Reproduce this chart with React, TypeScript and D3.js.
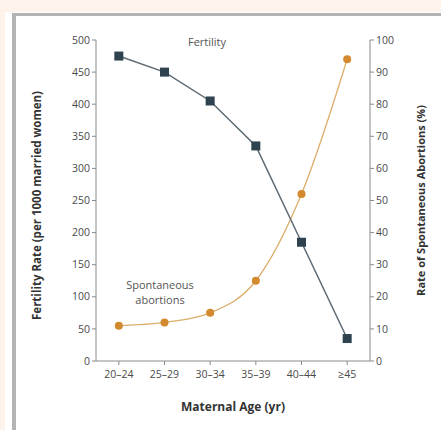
import React from "react";
import * as d3 from "d3";

const categories = ["20–24", "25–29", "30–34", "35–39", "40–44", "≥45"];
const fertility = [475, 450, 405, 335, 185, 35];
const abortions = [11, 12, 15, 25, 52, 94];
const leftTicks = [0, 50, 100, 150, 200, 250, 300, 350, 400, 450, 500];
const rightTicks = [0, 10, 20, 30, 40, 50, 60, 70, 80, 90, 100];

const W = 441, H = 430;
const x0 = 96, x1 = 370, yTop = 40, yBot = 361;
const FONT = "'Open Sans', 'Noto Sans', sans-serif";

export default function App() {
  const x = d3.scalePoint<string>().domain(categories).range([x0, x1]).padding(0.5);
  const yL = d3.scaleLinear().domain([0, 500]).range([yBot, yTop]);
  const yR = d3.scaleLinear().domain([0, 100]).range([yBot, yTop]);
  const fLine = d3.line<number>().x((_, i) => x(categories[i])!).y((d) => yL(d));
  const aLine = d3.line<number>().x((_, i) => x(categories[i])!).y((d) => yR(d)).curve(d3.curveMonotoneX);
  const axisColor = "#8a8a8a";
  const tickText = "#4a4a4a";
  return (
    <svg width={W} height={H} style={{ position: "absolute", left: 0, top: 0, background: "#fff" }} fontFamily={FONT}>
      <rect x={0} y={0} width={W} height={12} fill="#fdf3ea" />
      <rect x={0} y={0} width={5} height={H} fill="#fdf3ea" />
      <rect x={12} y={13} width={W - 12} height={3} fill="#b4b4b4" />
      <rect x={12} y={13} width={4} height={H - 13} fill="#b4b4b4" />
      {/* axes */}
      <line x1={x0} x2={x0} y1={yTop} y2={yBot} stroke={axisColor} strokeWidth={1} />
      <line x1={x1} x2={x1} y1={yTop} y2={yBot} stroke={axisColor} strokeWidth={1} />
      <line x1={x0} x2={x1} y1={yBot} y2={yBot} stroke={axisColor} strokeWidth={1} />
      {leftTicks.map((t) => (
        <g key={"l" + t}>
          <line x1={x0 - 4} x2={x0} y1={yL(t)} y2={yL(t)} stroke={axisColor} />
          <text x={x0 - 6} y={yL(t)} dy="0.35em" textAnchor="end" fontSize={10.5} fill={tickText}>{t}</text>
        </g>
      ))}
      {rightTicks.map((t) => (
        <g key={"r" + t}>
          <line x1={x1} x2={x1 + 4} y1={yR(t)} y2={yR(t)} stroke={axisColor} />
          <text x={x1 + 6} y={yR(t)} dy="0.35em" textAnchor="start" fontSize={10.5} fill={tickText}>{t}</text>
        </g>
      ))}
      {categories.map((c) => (
        <g key={c}>
          <line x1={x(c)} x2={x(c)} y1={yBot} y2={yBot + 4} stroke={axisColor} />
          <text x={x(c)} y={yBot + 17} textAnchor="middle" fontSize={10.5} fill={tickText}>{c}</text>
        </g>
      ))}
      {/* series */}
      <path d={aLine(abortions)!} fill="none" stroke="#dcae6a" strokeWidth={1.3} />
      <path d={fLine(fertility)!} fill="none" stroke="#5d6a74" strokeWidth={1.5} />
      {abortions.map((v, i) => (
        <circle key={"a" + i} cx={x(categories[i])} cy={yR(v)} r={4} fill="#d38a2e" />
      ))}
      {fertility.map((v, i) => (
        <rect key={"f" + i} x={x(categories[i])! - 4.5} y={yL(v) - 4.5} width={9} height={9} fill="#2f4250" />
      ))}
      {/* labels */}
      <text x={207} y={46} textAnchor="middle" fontSize={11} fill="#555">Fertility</text>
      <text x={160} y={289} textAnchor="middle" fontSize={11} fill="#555">Spontaneous</text>
      <text x={160} y={304} textAnchor="middle" fontSize={11} fill="#555">abortions</text>
      <text transform={`translate(41,${(yTop + yBot) / 2 + 5}) rotate(-90)`} textAnchor="middle" fontSize={11.5} fontWeight="bold" fill="#333">Fertility Rate (per 1000 married women)</text>
      <text transform={`translate(425,${(yTop + yBot) / 2}) rotate(-90)`} textAnchor="middle" fontSize={11} fontWeight="bold" fill="#333">Rate of Spontaneous Abortions (%)</text>
      <text x={233} y={411} textAnchor="middle" fontSize={12} fontWeight="bold" fill="#333">Maternal Age (yr)</text>
    </svg>
  );
}
